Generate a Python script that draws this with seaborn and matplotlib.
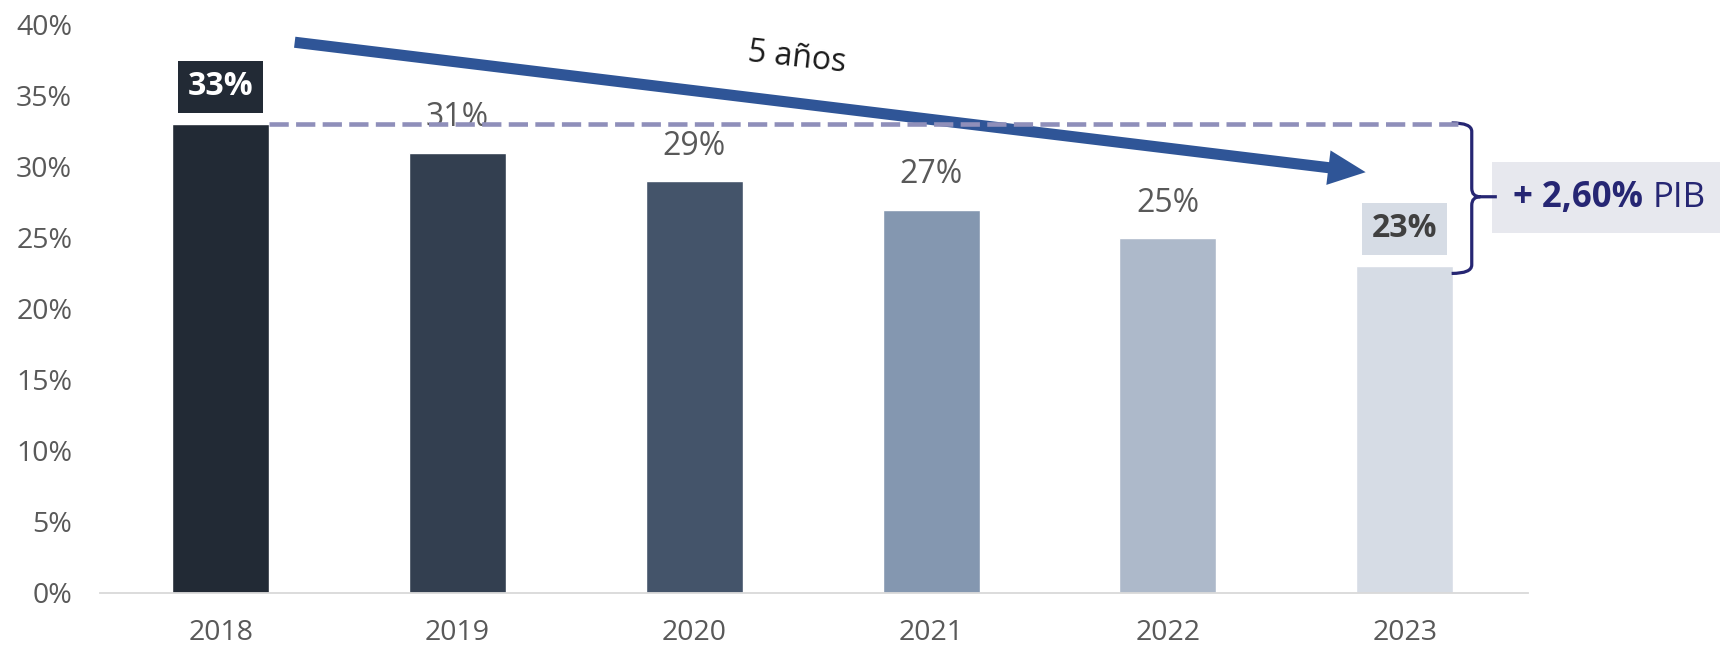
import matplotlib
matplotlib.use("Agg")
import pandas as pd
import matplotlib.pyplot as plt
import seaborn as sns
from matplotlib.path import Path
from matplotlib.patches import PathPatch, Rectangle

# Data
years = ['2018', '2019', '2020', '2021', '2022', '2023']
shares = [33, 31, 29, 27, 25, 23]
bar_colors = ['#222a35', '#333f50', '#44546a', '#8497b0', '#adb9ca', '#d6dce5']
period_label = '5 años'
gap_value = '+ 2,60%'
gap_unit = 'PIB'
y_ticks = [0, 5, 10, 15, 20, 25, 30, 35, 40]

# Style
sns.set_theme(style="white")
plt.rcParams['font.family'] = ['Open Sans', 'DejaVu Sans']

df = pd.DataFrame({'year': years, 'share': shares})

fig = plt.figure(figsize=(17.2, 6.47), dpi=100)
ax = fig.add_axes([0.0581, 0.0835, 0.8302, 0.878])
ax.patch.set_visible(False)

sns.barplot(data=df, x='year', y='share', hue='year', palette=bar_colors,
            width=0.41, saturation=1, legend=False, ax=ax)

ax.set_xlim(-0.51, 5.52)
ax.set_ylim(0, 40)
ax.set_yticks(y_ticks)
ax.set_yticklabels([f'{t}%' for t in y_ticks])
ax.set_xlabel('')
ax.set_ylabel('')
for side in ['left', 'top', 'right']:
    ax.spines[side].set_visible(False)
ax.spines['bottom'].set_color('#d9d9d9')
ax.spines['bottom'].set_linewidth(1.3)
ax.tick_params(axis='both', length=0, labelsize=20.5, labelcolor='#595959')
ax.tick_params(axis='y', pad=20)
ax.tick_params(axis='x', pad=19)

# Value labels
for i, v in enumerate(shares):
    if i == 0:
        ax.text(i, v + 2.65, f'{v}%', ha='center', va='center', fontsize=23,
                fontweight='bold', color='white',
                bbox=dict(boxstyle='square,pad=0.3', fc=bar_colors[0], ec='none'))
    elif i == len(shares) - 1:
        ax.text(i, v + 2.65, f'{v}%', ha='center', va='center', fontsize=23,
                fontweight='bold', color='#404040',
                bbox=dict(boxstyle='square,pad=0.3', fc=bar_colors[-1], ec='none'))
    else:
        ax.text(i, v + 2.45, f'{v}%', ha='center', va='center', fontsize=23,
                color='#595959')

# Dashed reference line at first value
ax.hlines(shares[0], 0.205, 5.245, colors='#8f8fba', linewidth=3.3,
          linestyles=(0, (4.2, 1.6)), zorder=4)

# Trend arrow
ax.annotate('', xy=(4.835, 29.63), xytext=(0.3125, 38.78),
            arrowprops=dict(arrowstyle='simple,head_length=27,head_width=25,tail_width=8',
                            mutation_scale=1, color='#2f5597', lw=0,
                            shrinkA=0, shrinkB=0))
ax.text(2.432, 37.7, period_label, rotation=-6.3, rotation_mode='anchor',
        ha='center', va='center', fontsize=23, color='#1a1a1a')

# Curly bracket between first and last value
xv, xe, xt = 5.283, 5.198, 5.389
top, bot, mid = 33.1, 22.5, 27.9
rx, ry = 0.036, 0.6
verts = [(xe, top), (xv, top), (xv, top - ry), (xv, mid + ry), (xv, mid), (xv + rx, mid),
         (xt, mid),
         (xv + rx, mid), (xv, mid), (xv, mid - ry), (xv, bot + ry), (xv, bot), (xe, bot)]
codes = [Path.MOVETO, Path.CURVE3, Path.CURVE3, Path.LINETO, Path.CURVE3, Path.CURVE3,
         Path.LINETO,
         Path.MOVETO, Path.CURVE3, Path.CURVE3, Path.LINETO, Path.CURVE3, Path.CURVE3]
ax.add_patch(PathPatch(Path(verts, codes), fill=False, ec='#262673', lw=2.3,
                       capstyle='butt', clip_on=False))

# Side annotation box
ax.add_patch(Rectangle((0.8674, 0.6399), 0.1326, 0.1097, transform=fig.transFigure,
                       fc='#e7e8ee', ec='none', clip_on=False, zorder=0))
t1 = ax.text(0.8797, 0.6947, gap_value, transform=fig.transFigure, ha='left', va='center',
             fontsize=25, fontweight='bold', color='#262673', zorder=5)
ax.annotate(gap_unit, xy=(1, 0.5), xycoords=t1, xytext=(7, 0), textcoords='offset points',
            ha='left', va='center', fontsize=25, color='#262673', annotation_clip=False,
            zorder=5)

fig.savefig('out.png', dpi=100)
